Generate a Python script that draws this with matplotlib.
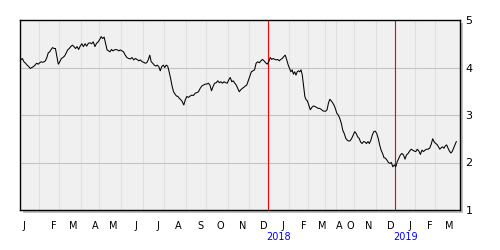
import numpy as np
import matplotlib
matplotlib.use("Agg")
import matplotlib.pyplot as plt
from matplotlib.patches import Rectangle

# month letters, trading days shown per month, samples per month
months = ['J', 'F', 'M', 'A', 'M', 'J', 'J', 'A', 'S', 'O', 'N', 'D',
          'J', 'F', 'M', 'A', 'O', 'N', 'D',
          'J', 'F', 'M']
month_days = [19, 20, 22, 18, 22, 22, 21, 22, 20, 22, 21, 19,
              21, 19, 17, 11, 18, 22, 19,
              20, 20, 22]
month_pts = [12, 14, 14, 11, 15, 13, 14, 15, 12, 14, 14, 12,
             14, 15, 11, 8, 12, 15, 13,
             13, 13, 16]
# month index where a new year begins, and its label
year_start = [12, 19]
year_labels = ['2018', '2019']

prices = [
    # 2017
    4.16, 4.19, 4.12, 4.09, 4.05, 4.02, 3.98, 4.00, 4.02, 4.05, 4.09, 4.07,
    4.10, 4.12, 4.11, 4.12, 4.14, 4.21, 4.31, 4.33, 4.38, 4.42, 4.40, 4.40, 4.23, 4.07,
    4.12, 4.19, 4.21, 4.24, 4.30, 4.37, 4.40, 4.44, 4.47, 4.44, 4.40, 4.44, 4.38, 4.45,
    4.50, 4.44, 4.50, 4.45, 4.51, 4.52, 4.50, 4.54, 4.44, 4.51, 4.54,
    4.59, 4.65, 4.61, 4.64, 4.51, 4.37, 4.35, 4.33, 4.38, 4.35, 4.37, 4.38, 4.37, 4.35, 4.37,
    4.35, 4.33, 4.26, 4.21, 4.19, 4.18, 4.21, 4.16, 4.19, 4.17, 4.14, 4.16, 4.12,
    4.11, 4.09, 4.10, 4.16, 4.26, 4.12, 4.09, 4.05, 4.03, 4.05, 4.02, 3.93, 4.02, 4.05,
    4.00, 4.05, 4.03, 3.91, 3.77, 3.61, 3.49, 3.44, 3.40, 3.39, 3.35, 3.32, 3.28, 3.21, 3.32,
    3.39, 3.37, 3.40, 3.42, 3.41, 3.46, 3.47, 3.49, 3.56, 3.61, 3.63, 3.65,
    3.65, 3.67, 3.63, 3.51, 3.60, 3.67, 3.68, 3.72, 3.68, 3.70, 3.67, 3.70, 3.68, 3.67,
    3.74, 3.79, 3.70, 3.72, 3.67, 3.63, 3.56, 3.49, 3.53, 3.56, 3.58, 3.61, 3.63, 3.72,
    3.81, 3.91, 3.93, 3.95, 4.09, 4.12, 4.10, 4.14, 4.17, 4.14, 4.10, 4.07,
    # 2018
    4.12, 4.21, 4.17, 4.19, 4.17, 4.16, 4.17, 4.14, 4.17, 4.19, 4.23, 4.26, 4.16, 4.05,
    3.98, 3.91, 3.95, 3.86, 3.91, 3.84, 3.91, 3.93, 3.91, 3.95, 3.84, 3.61, 3.39, 3.32, 3.30,
    3.21, 3.11, 3.16, 3.19, 3.18, 3.16, 3.14, 3.14, 3.12, 3.09, 3.08,
    3.08, 3.11, 3.25, 3.33, 3.30, 3.26, 3.21, 3.14,
    3.04, 3.00, 2.93, 2.83, 2.68, 2.61, 2.51, 2.47, 2.45, 2.46, 2.51, 2.58,
    2.65, 2.61, 2.54, 2.51, 2.43, 2.40, 2.44, 2.43, 2.40, 2.44, 2.40, 2.47, 2.58, 2.65, 2.66,
    2.61, 2.51, 2.37, 2.26, 2.19, 2.10, 2.09, 2.05, 2.00, 1.98, 2.00, 1.91, 1.95,
    # 2019
    1.91, 2.02, 2.09, 2.16, 2.19, 2.16, 2.07, 2.16, 2.19, 2.24, 2.28, 2.26, 2.24,
    2.23, 2.28, 2.24, 2.17, 2.26, 2.23, 2.26, 2.28, 2.28, 2.30, 2.38, 2.50, 2.43,
    2.40, 2.38, 2.33, 2.28, 2.31, 2.33, 2.30, 2.35, 2.37, 2.30, 2.24, 2.20, 2.23, 2.30, 2.37, 2.44,
]

# x position of every sample: spread evenly across its month
starts = np.concatenate([[0], np.cumsum(month_days)[:-1]])
xs = []
for s, d, n in zip(starts, month_days, month_pts):
    xs.extend(s + (np.arange(n) + 0.5) * d / n)
xs = np.array(xs)

fig = plt.figure(figsize=(5, 2.5), dpi=100)
# drop shadow behind the plot box
fig.patches.append(Rectangle((23 / 500, 37 / 250), 0.88, 0.76, transform=fig.transFigure,
                             facecolor='#c0c0c0', edgecolor='none', zorder=0))
ax = fig.add_axes([0.04, 0.16, 0.88, 0.76])
ax.set_facecolor('#f0f0f0')
ax.set_zorder(1)

for s in starts[1:]:
    ax.axvline(s, color='#e0e0e0', lw=0.8, zorder=1)
for v in [2, 3, 4]:
    ax.axhline(v, color='#c4c4c4', lw=0.8, zorder=1)
for m in year_start:
    ax.axvline(starts[m], color='#ff0000', lw=0.8, zorder=2)

ax.plot(xs, prices, color='black', lw=0.75, zorder=3)

ax.set_xlim(0, 440)
ax.set_ylim(1, 5)
ax.set_xticks([])
ax.yaxis.tick_right()
ax.set_yticks([1, 2, 3, 4, 5])
ax.tick_params(axis='y', length=0, pad=4, labelsize=8)
for sp in ax.spines.values():
    sp.set_linewidth(1.0)

trans = ax.get_xaxis_transform()
for i, (lab, s) in enumerate(zip(months, starts)):
    lx = 4 if i == 0 else s + 14.5
    ax.text(lx, -0.085, lab, transform=trans, ha='center', va='center', fontsize=7,
            clip_on=False)
for m, lab in zip(year_start, year_labels):
    ax.text(starts[m] + 11, -0.14, lab, transform=trans, ha='center', va='center',
            fontsize=7, color='#0000ff', clip_on=False)

fig.savefig('out.png', dpi=100)
